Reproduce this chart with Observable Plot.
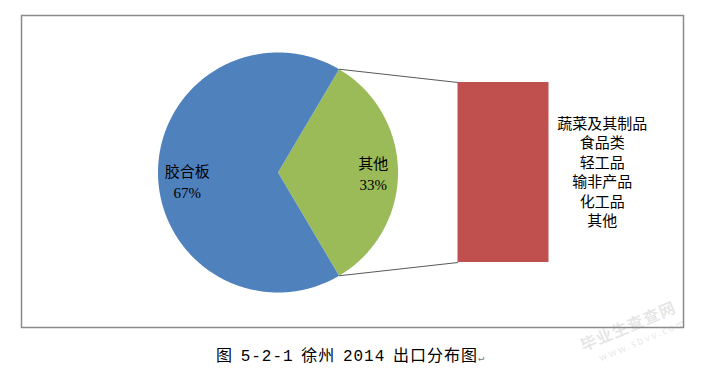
<!DOCTYPE html>
<html>
<head>
<meta charset="utf-8">
<script src="https://cdn.jsdelivr.net/npm/d3@7"></script>
<script src="https://cdn.jsdelivr.net/npm/@observablehq/plot@0.6"></script>
<style>
  html, body { margin: 0; padding: 0; background: #fff; }
  #wrap { position: relative; width: 706px; height: 375px; overflow: hidden; }
  #caption { position: absolute; left: 0; width: 700px; top: 342px; text-align: center;
    font-family: "Liberation Mono", "Noto Sans CJK SC", monospace; font-size: 16px; color: #000; letter-spacing: 1px; word-spacing: -3px; }
  #caption .ret { font-size: 10px; color: #777; letter-spacing: 0; }
  #wm { position: absolute; left: 576px; top: 334px; transform: rotate(-23deg); transform-origin: left top;
    font-family: "Noto Sans CJK SC", sans-serif; color: rgba(140,140,140,0.22); pointer-events: none; white-space: nowrap; }
</style>
</head>
<body>
<div id="wrap">
  <div id="chart"></div>
  <div id="caption">图 5-2-1 徐州 2014 出口分布图<span class="ret">↵</span></div>
</div>
<script>
// ---- data ----
const pieCategories = ["胶合板", "其他"];
const pieValues = [0.67, 0.33];
const pieColors = ["#4F81BD", "#9BBB59"];
const barItems = ["蔬菜及其制品", "食品类", "轻工品", "输非产品", "化工品", "其他"];
const barColor = "#C0504D";

// ---- layout (pixels) ----
const W = 706, H = 340;
const box = {left: 21, top: 15, right: 683, bottom: 327};
const CX = 277.5, CY = 172, R = 120; // pie centre & radius in px
const K = R; // px per unit

const xDomain = [(box.left - CX) / K, (box.right - CX) / K];
const yDomain = [(CY - box.bottom) / K, (CY - box.top) / K];

// pie geometry: "其他" slice centred on the right
const otherShare = pieValues[1];
const half = otherShare * Math.PI;
const slices = [];
const N = 180;
{
  const pts = [[0, 0]];
  for (let i = 0; i <= N; i++) {
    const a = -half + (2 * half) * i / N;
    pts.push([Math.cos(a), Math.sin(a)]);
  }
  pts.push([0, 0]);
  pts.forEach(([x, y]) => slices.push({cat: pieCategories[1], x, y}));
}
{
  const span = pieValues[0] * 2 * Math.PI;
  const pts = [[0, 0]];
  for (let i = 0; i <= N * 2; i++) {
    const a = half + span * i / (N * 2);
    pts.push([Math.cos(a), Math.sin(a)]);
  }
  pts.push([0, 0]);
  pts.forEach(([x, y]) => slices.push({cat: pieCategories[0], x, y}));
}

// bar for the "其他" breakdown
const barX1 = (457.5 - CX) / K, barX2 = (548.5 - CX) / K;
const barHalfH = 0.75;
const barScale = (2 * barHalfH) / otherShare;
const bar = [{x1: barX1, x2: barX2, y1: -otherShare * barScale / 2, y2: otherShare * barScale / 2}];

const leaders = [
  {x1: Math.cos(half), y1: Math.sin(half), x2: barX1, y2: bar[0].y2},
  {x1: Math.cos(-half), y1: Math.sin(-half), x2: barX1, y2: bar[0].y1}
];

const pieLabels = [
  {x: (186.7 - CX) / K, y: (CY - 171.7) / K, name: pieCategories[0], pct: Math.round(pieValues[0] * 100) + "%"},
  {x: (372.7 - CX) / K, y: (CY - 163.3) / K, name: pieCategories[1], pct: Math.round(pieValues[1] * 100) + "%"}
];
const listLabel = [{x: (601.7 - CX) / K, y: (CY - 170.6) / K, text: barItems.join("\n")}];

const serif = "'Liberation Serif', 'Noto Sans CJK SC', serif";
const cjk = "'Noto Sans CJK SC', sans-serif";

const chart = Plot.plot({
  width: W, height: H,
  marginLeft: box.left, marginTop: box.top, marginRight: W - box.right, marginBottom: H - box.bottom,
  x: {domain: xDomain, axis: null},
  y: {domain: yDomain, axis: null},
  color: {domain: pieCategories, range: pieColors},
  style: {fontFamily: serif, background: "#fff"},
  marks: [
    Plot.line(slices, {x: "x", y: "y", z: "cat", fill: "cat", stroke: "none", curve: "linear"}),
    Plot.link(leaders, {x1: "x1", y1: "y1", x2: "x2", y2: "y2", stroke: "#595959", strokeWidth: 1}),
    Plot.rect(bar, {x1: "x1", x2: "x2", y1: "y1", y2: "y2", fill: barColor}),
    Plot.text(pieLabels, {x: "x", y: "y", text: "name", fontSize: 15, fill: "#000", fontFamily: cjk}),
    Plot.text(pieLabels, {x: "x", y: "y", text: "pct", dy: 21, fontSize: 15, fill: "#000", fontFamily: serif}),
    Plot.text(listLabel, {x: "x", y: "y", text: "text", fontSize: 15, lineHeight: 1.3, fill: "#000", fontFamily: cjk}),
    Plot.frame({stroke: "#8a8a8a", strokeWidth: 1.5})
  ]
});
document.getElementById("chart").appendChild(chart);

const wm = document.createElement("div");
wm.id = "wm";
wm.innerHTML = '<div style="font-size:16px;font-weight:bold;letter-spacing:1px;">毕业生查查网</div><div style="font-size:10px;margin-left:12px;margin-top:-1px;letter-spacing:2px;">www.sbvv.com</div>';
document.getElementById("wrap").appendChild(wm);
</script>
</body>
</html>
